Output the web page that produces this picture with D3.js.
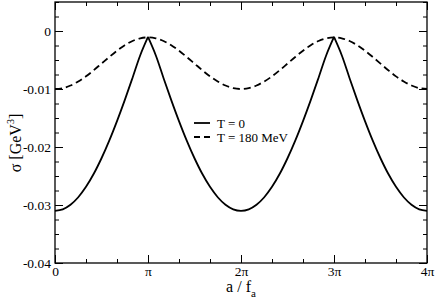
<!DOCTYPE html>
<html><head><meta charset="utf-8">
<script src="https://cdn.jsdelivr.net/npm/d3@7"></script>
<style>body{margin:0;background:#fff}svg{display:block}text{font-family:"Liberation Serif","DejaVu Serif",serif;fill:#000}</style>
</head><body>
<svg id="c" width="436" height="306"></svg>
<script>
// x positions in units of pi/12
const xsteps = d3.range(0, 49);
const sigmaT0 = [
 -0.0310,-0.03075,-0.02996,-0.02866,-0.02687,-0.02462,-0.02194,-0.01890,-0.01553,-0.01191,-0.00809,-0.00418,-0.00103,
 -0.00418,-0.00809,-0.01191,-0.01553,-0.01890,-0.02194,-0.02462,-0.02687,-0.02866,-0.02996,-0.03075,-0.0310,
 -0.03075,-0.02996,-0.02866,-0.02687,-0.02462,-0.02194,-0.01890,-0.01553,-0.01191,-0.00809,-0.00418,-0.00103,
 -0.00418,-0.00809,-0.01191,-0.01553,-0.01890,-0.02194,-0.02462,-0.02687,-0.02866,-0.02996,-0.03075,-0.0310];
const sigmaT180 = [
 -0.0100,-0.00985,-0.00940,-0.00870,-0.00782,-0.00676,-0.00562,-0.00448,-0.00340,-0.00245,-0.00172,-0.00126,-0.00110,
 -0.00126,-0.00172,-0.00245,-0.00340,-0.00448,-0.00562,-0.00676,-0.00782,-0.00870,-0.00940,-0.00985,-0.0100,
 -0.00985,-0.00940,-0.00870,-0.00782,-0.00676,-0.00562,-0.00448,-0.00340,-0.00245,-0.00172,-0.00126,-0.00110,
 -0.00126,-0.00172,-0.00245,-0.00340,-0.00448,-0.00562,-0.00676,-0.00782,-0.00870,-0.00940,-0.00985,-0.0100];
const cuspsT0 = [12, 36]; // indices of cusps (pi, 3pi)
const xTickValues = [0, 12, 24, 36, 48];
const xTickLabels = ["0", "\u03C0", "2\u03C0", "3\u03C0", "4\u03C0"];
const xMinorValues = d3.range(0, 49, 4);
const yTickValues = [-0.04, -0.03, -0.02, -0.01, 0];
const yTickLabels = ["-0.04", "-0.03", "-0.02", "-0.01", "0"];
const yMinorValues = d3.range(-0.04, 0.0051, 0.0025);
const legendLabels = ["T = 0", "T = 180 MeV"];

const svg = d3.select("#c");
const L = 55, R = 427, T = 2, B = 263;
const x = d3.scaleLinear().domain([0, 48]).range([L, R]);
const y = d3.scaleLinear().domain([-0.04, 0.005]).range([B, T]);

const line = d3.line().x(d => x(d[0])).y(d => y(d[1])).curve(d3.curveCatmullRom.alpha(0.5));
const pts0 = xsteps.map((k, i) => [k, sigmaT0[i]]);
const pts1 = xsteps.map((k, i) => [k, sigmaT180[i]]);
const bounds = [0, ...cuspsT0, 48];
for (let s = 0; s < bounds.length - 1; s++) {
  svg.append("path").attr("d", line(pts0.slice(bounds[s], bounds[s + 1] + 1)))
    .attr("fill", "none").attr("stroke", "#000").attr("stroke-width", 1.8);
}
svg.append("path").attr("d", line(pts1)).attr("fill", "none").attr("stroke", "#000")
  .attr("stroke-width", 1.8).attr("stroke-dasharray", "7,4");

function styleAxis(g) { g.select(".domain").remove(); g.selectAll("line").attr("stroke", "#000"); }
// bottom
svg.append("g").attr("transform", `translate(0,${B})`)
  .call(d3.axisBottom(x).tickValues(xTickValues).tickSize(-8).tickPadding(3)
    .tickFormat((d, i) => xTickLabels[i])).call(styleAxis)
  .selectAll("text").attr("font-size", 13.5);
svg.append("g").attr("transform", `translate(0,${B})`)
  .call(d3.axisBottom(x).tickValues(xMinorValues).tickSize(-4).tickFormat("")).call(styleAxis);
// top
svg.append("g").attr("transform", `translate(0,${T})`)
  .call(d3.axisTop(x).tickValues(xTickValues).tickSize(-8).tickFormat("")).call(styleAxis);
svg.append("g").attr("transform", `translate(0,${T})`)
  .call(d3.axisTop(x).tickValues(xMinorValues).tickSize(-4).tickFormat("")).call(styleAxis);
// left
svg.append("g").attr("transform", `translate(${L},0)`)
  .call(d3.axisLeft(y).tickValues(yTickValues).tickSize(-8).tickPadding(4)
    .tickFormat((d, i) => yTickLabels[i])).call(styleAxis)
  .selectAll("text").attr("font-size", 13.5);
svg.append("g").attr("transform", `translate(${L},0)`)
  .call(d3.axisLeft(y).tickValues(yMinorValues).tickSize(-4).tickFormat("")).call(styleAxis);
// right
svg.append("g").attr("transform", `translate(${R},0)`)
  .call(d3.axisRight(y).tickValues(yTickValues).tickSize(-8).tickFormat("")).call(styleAxis);
svg.append("g").attr("transform", `translate(${R},0)`)
  .call(d3.axisRight(y).tickValues(yMinorValues).tickSize(-4).tickFormat("")).call(styleAxis);

svg.append("rect").attr("x", L).attr("y", T).attr("width", R - L).attr("height", B - T)
  .attr("fill", "none").attr("stroke", "#000").attr("stroke-width", 1.3);

// axis titles
const xt = svg.append("text").attr("x", (L + R) / 2).attr("y", 292).attr("text-anchor", "middle").attr("font-size", 16);
xt.append("tspan").text("a / f");
xt.append("tspan").attr("dy", 5).attr("font-size", 11).text("a");
const yt = svg.append("text").attr("transform", "translate(21,143) rotate(-90)").attr("text-anchor", "middle").attr("font-size", 16);
yt.append("tspan").text("\u03C3 [GeV");
yt.append("tspan").attr("dy", -7).attr("font-size", 10).text("3");
yt.append("tspan").attr("dy", 7).text("]");

// legend
const lg = svg.append("g");
[0, 1].forEach(i => {
  const yy = 123 + i * 14;
  lg.append("line").attr("x1", 194).attr("x2", 210).attr("y1", yy).attr("y2", yy)
    .attr("stroke", "#000").attr("stroke-width", 1.8).attr("stroke-dasharray", i ? "6,4" : null);
  lg.append("text").attr("x", 217).attr("y", yy + 4.5).attr("font-size", 13).text(legendLabels[i]);
});
</script>
</body></html>
